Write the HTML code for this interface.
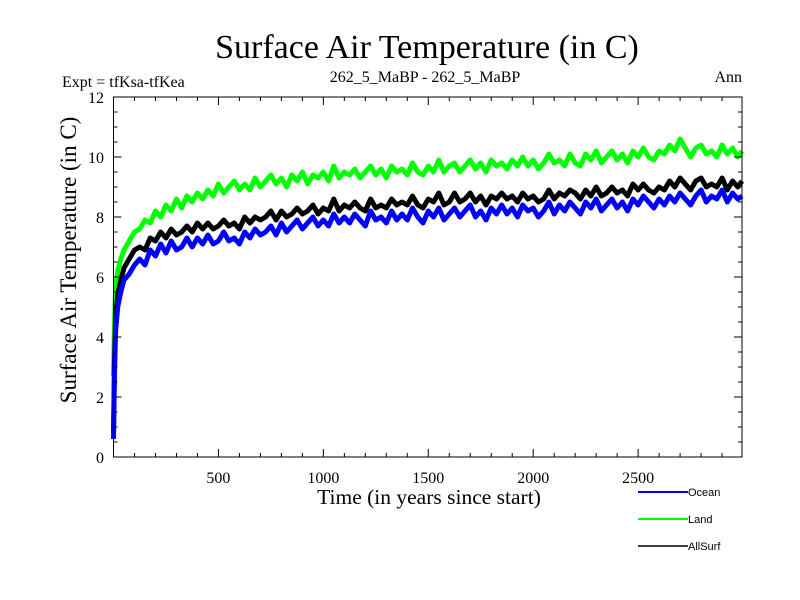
<!DOCTYPE html>
<html><head><meta charset="utf-8"><style>
html,body{margin:0;padding:0;background:#fff;}
svg{display:block;}
.serif{font-family:"Liberation Serif",serif;}
.sans{font-family:"Liberation Sans",sans-serif;}
</style></head><body>
<svg id="chart" width="800" height="600" viewBox="0 0 800 600">
<rect width="800" height="600" fill="#fff"/>
<text x="427" y="58" text-anchor="middle" class="serif" font-size="34">Surface Air Temperature (in C)</text>
<text x="62" y="87" class="serif" font-size="16">Expt = tfKsa-tfKea</text>
<text x="425" y="82" text-anchor="middle" class="serif" font-size="16">262_5_MaBP - 262_5_MaBP</text>
<text x="742" y="82" text-anchor="end" class="serif" font-size="16">Ann</text>
<g id="plot"></g>
<g id="axes"></g>
<text x="429" y="504" text-anchor="middle" class="serif" font-size="21.5">Time (in years since start)</text>
<text transform="translate(76,260) rotate(-90)" text-anchor="middle" class="serif" font-size="23">Surface Air Temperature (in C)</text>
<g id="legend"></g>
</svg>
<script>
const earlyYears = [0,5,10,20,35,50,75,100];
const oceanValues = [0.6,2.8,4.2,5.0,5.5,5.9,6.1,6.4,
6.6,6.4,6.9,6.7,7.1,6.8,7.2,6.9,7.0,7.3,
7.0,7.3,7.1,7.4,7.1,7.2,7.5,7.2,7.3,7.1,
7.5,7.3,7.6,7.4,7.5,7.7,7.4,7.8,7.5,7.7,
7.9,7.6,7.8,8.0,7.7,7.9,7.7,8.1,7.8,8.0,
7.8,8.1,7.9,7.7,8.2,7.9,8.0,7.8,8.2,7.9,
8.1,7.9,8.3,8.0,7.8,8.2,8.0,8.3,7.9,8.1,
8.3,8.0,8.2,8.4,8.0,8.2,7.9,8.3,8.1,8.4,
8.1,8.3,8.0,8.4,8.2,8.3,8.0,8.2,8.5,8.1,
8.4,8.2,8.5,8.3,8.1,8.5,8.3,8.6,8.2,8.4,
8.6,8.3,8.5,8.2,8.6,8.4,8.7,8.5,8.3,8.6,
8.4,8.7,8.5,8.8,8.6,8.4,8.7,8.9,8.5,8.7,
8.6,8.9,8.5,8.8,8.6,8.7];
const allSurfValues = [0.8,3.2,4.6,5.4,5.9,6.3,6.6,6.9,
7.0,6.9,7.3,7.2,7.5,7.3,7.6,7.4,7.5,7.7,
7.5,7.8,7.6,7.8,7.6,7.7,7.9,7.7,7.8,7.6,
8.0,7.8,8.0,7.9,8.0,8.2,7.9,8.2,8.0,8.1,
8.3,8.1,8.2,8.4,8.1,8.3,8.2,8.6,8.2,8.4,
8.3,8.5,8.3,8.2,8.6,8.3,8.4,8.3,8.6,8.4,
8.5,8.4,8.7,8.4,8.3,8.6,8.5,8.8,8.4,8.5,
8.8,8.5,8.6,8.8,8.5,8.7,8.4,8.7,8.6,8.8,
8.6,8.7,8.5,8.8,8.6,8.7,8.5,8.6,8.9,8.6,
8.8,8.7,8.9,8.8,8.6,8.9,8.7,9.0,8.7,8.8,
9.0,8.8,8.9,8.7,9.1,8.9,9.1,8.9,8.8,9.0,
8.9,9.2,9.0,9.3,9.1,8.9,9.2,9.3,9.0,9.1,
9.0,9.3,8.9,9.2,9.0,9.2];
const landValues = [2.7,4.5,5.6,6.2,6.6,6.9,7.2,7.5,
7.6,7.9,7.8,8.2,8.0,8.4,8.2,8.6,8.3,8.7,
8.5,8.8,8.6,8.9,8.7,9.1,8.8,9.0,9.2,8.9,
9.1,8.9,9.3,9.0,9.2,9.4,9.1,9.3,9.0,9.4,
9.2,9.5,9.1,9.4,9.3,9.5,9.2,9.7,9.3,9.5,
9.4,9.6,9.3,9.5,9.7,9.4,9.6,9.3,9.7,9.5,
9.6,9.4,9.8,9.5,9.4,9.7,9.5,9.9,9.5,9.7,
9.8,9.5,9.7,9.9,9.6,9.8,9.5,9.9,9.7,9.8,
9.6,9.9,9.7,10.0,9.7,9.9,9.6,9.8,10.1,9.8,
9.9,9.7,10.1,9.8,9.7,10.1,9.9,10.2,9.8,10.0,
10.2,9.9,10.1,9.8,10.2,10.0,10.3,10.0,9.9,10.2,
10.1,10.4,10.2,10.6,10.3,10.0,10.3,10.4,10.1,10.2,
10.0,10.4,10.1,10.3,10.0,10.2];
const xTickLabels = ["500","1000","1500","2000","2500"];
const yTickLabels = ["0","2","4","6","8","10","12"];
const seriesNames = ["Ocean","Land","AllSurf"];

const years = earlyYears.slice();
for (let y = 125; y <= 3000; y += 25) years.push(y);

const L = 113.5, R = 742, T = 97, B = 457;
const xMin = 0, xMax = 2995, yMin = 0, yMax = 12;
const xs = v => L + (v - xMin) / (xMax - xMin) * (R - L);
const ys = v => B - (v - yMin) / (yMax - yMin) * (B - T);
const NS = "http://www.w3.org/2000/svg";
function mk(tag, attrs, parent) {
  const e = document.createElementNS(NS, tag);
  for (const k in attrs) e.setAttribute(k, attrs[k]);
  parent.appendChild(e); return e;
}
const plot = document.getElementById('plot');
const axes = document.getElementById('axes');
const legend = document.getElementById('legend');

function drawSeries(vals, color, name) {
  let d = '';
  vals.forEach((v, i) => { const x = Math.min(years[i], xMax); d += (i ? 'L' : 'M') + xs(x).toFixed(1) + ' ' + ys(v).toFixed(1); });
  const p = mk('path', {d: d, fill: 'none', stroke: color, 'stroke-width': 5, 'stroke-linejoin': 'round'}, plot);
  
  
}
drawSeries(landValues, '#00ff00', 'land-line');
drawSeries(allSurfValues, '#000000', 'allsurf-line');
drawSeries(oceanValues, '#0000ff', 'ocean-line');

const frame = mk('rect', {x: L, y: T, width: R - L, height: B - T, fill: 'none', stroke: '#000', 'stroke-width': 1}, axes);



for (let v = 100; v < xMax; v += 100) {
  const major = v % 500 === 0, len = major ? 8 : 4, x = xs(v);
  mk('line', {x1: x, y1: B, x2: x, y2: B - len, stroke: '#000'}, axes);
  mk('line', {x1: x, y1: T, x2: x, y2: T + len, stroke: '#000'}, axes);
}
xTickLabels.forEach(lbl => {
  const t = mk('text', {x: xs(+lbl), y: 483, 'text-anchor': 'middle', class: 'serif', 'font-size': 16}, axes);
  t.textContent = lbl;
  
  
});
for (let v = 0.5; v < yMax; v += 0.5) {
  const major = v % 2 === 0, len = major ? 8 : 4, y = ys(v);
  mk('line', {x1: L, y1: y, x2: L + len, y2: y, stroke: '#000'}, axes);
  mk('line', {x1: R, y1: y, x2: R - len, y2: y, stroke: '#000'}, axes);
}
yTickLabels.forEach(lbl => {
  const t = mk('text', {x: 104, y: ys(+lbl) + 6, 'text-anchor': 'end', class: 'serif', 'font-size': 16}, axes);
  t.textContent = lbl;
  
  
});

const legColors = ['#0000ff', '#00ff00', '#000000'];
seriesNames.forEach((n, i) => {
  const y = 492 + i * 27;
  const ln = mk('line', {x1: 638, y1: y, x2: 688, y2: y, stroke: legColors[i], 'stroke-width': i === 2 ? 1.5 : 2}, legend);
  
  
  const t = mk('text', {x: 688, y: y + 4, class: 'sans', 'font-size': 11}, legend);
  t.textContent = n;
  
  
});
</script>
</body></html>
